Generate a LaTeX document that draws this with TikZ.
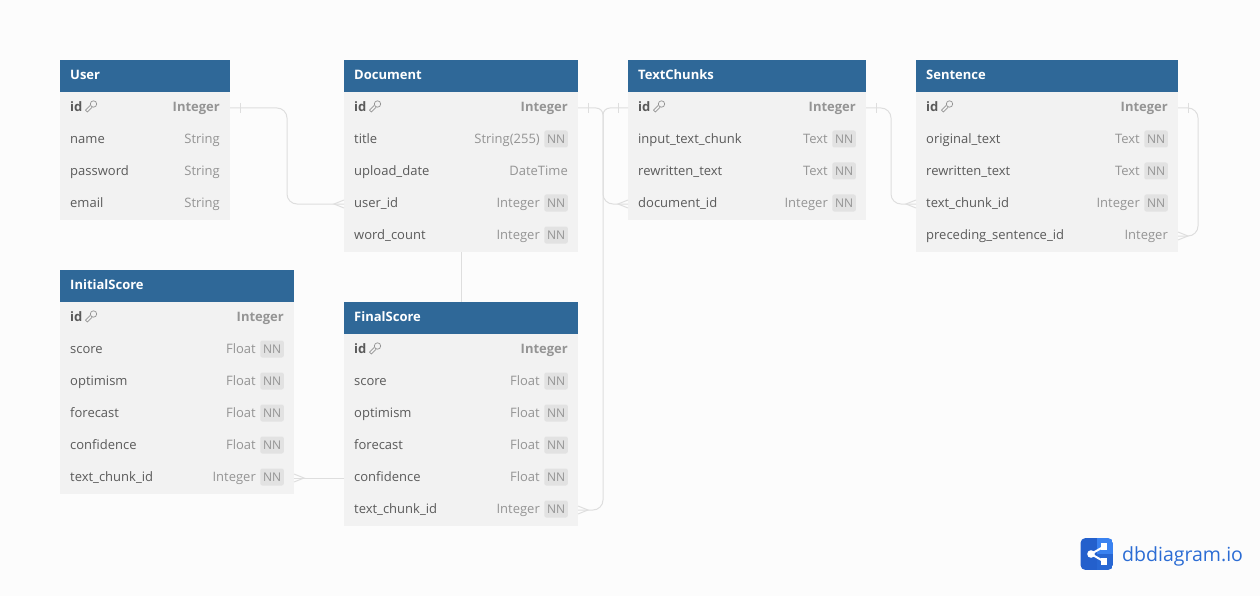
\documentclass[tikz,border=0pt]{standalone}
\usepackage{fontspec}
\setmainfont{Open Sans}
\usetikzlibrary{calc}
\definecolor{pagebg}{HTML}{FCFCFC}
\definecolor{rowbg}{HTML}{F2F2F2}
\definecolor{headbg}{HTML}{2F6898}
\definecolor{fieldtxt}{HTML}{5A5A5A}
\definecolor{typetxt}{HTML}{949494}
\definecolor{badgebg}{HTML}{E2E2E2}
\definecolor{linec}{HTML}{DEDEDE}
\definecolor{logod}{HTML}{2460CC}
\definecolor{logol}{HTML}{3A82F0}
\definecolor{logot}{HTML}{2B6CD4}
\tikzset{
 x=1pt,y=-1pt,
 rowbox/.style={fill=rowbg,draw=none,inner sep=0,outer sep=0,anchor=north west,minimum height=32pt},
 headbox/.style={fill=headbg,draw=none,inner sep=0,outer sep=0,anchor=north west,minimum height=32pt},
 headtxt/.style={text=white,font=\fontsize{13}{15}\selectfont\bfseries,anchor=base west,inner sep=0},
 fieldlbl/.style={text=fieldtxt,font=\fontsize{13}{15}\selectfont,anchor=base west,inner sep=0},
 typelbl/.style={text=typetxt,font=\fontsize{13}{15}\selectfont,anchor=base east,inner sep=0},
 badge/.style={fill=badgebg,rounded corners=2pt,text=typetxt,font=\fontsize{12}{14}\selectfont,inner sep=0,minimum width=23.5pt,minimum height=17pt,anchor=east},
 rel/.style={draw=linec,line width=1pt,rounded corners=10pt},
 tickline/.style={draw=linec,line width=1pt},
 keyic/.style={draw=typetxt,line width=.7pt},
}
% \ent{id}{x}{y}{w}{Title}
\newcommand{\ent}[5]{%
 \node[headbox,minimum width=#4pt] (#1) at (#2,#3) {};
 \node[headtxt] (#1-t) at (#2+10,#3+19.4) {#5};
}
% \rowk{id}{x}{y}{w}{type}: primary key row
\newcommand{\rowk}[5]{%
 \node[rowbox,minimum width=#4pt] (#1) at (#2,#3) {};
 \node[fieldlbl,font=\fontsize{13}{15}\selectfont\bfseries] (#1-f) at (#2+10,#3+19.4) {id};
 \node[typelbl,font=\fontsize{13}{15}\selectfont\bfseries] (#1-y) at (#2+#4-10,#3+19.4) {#5};
 \begin{scope}[shift={(#2+33.5,#3+12)},rotate=45]
  \draw[keyic] (0,0) circle[radius=3.2pt];
  \draw[keyic] (-3.2,1.3) -- (-10,1.3) -- (-10,-1.3) -- (-3.2,-1.3);
 \end{scope}
}
% \rowp{id}{x}{y}{w}{field}{type}: plain row
\newcommand{\rowp}[6]{%
 \node[rowbox,minimum width=#4pt] (#1) at (#2,#3) {};
 \node[fieldlbl] (#1-f) at (#2+10,#3+19.4) {#5};
 \node[typelbl] (#1-y) at (#2+#4-10,#3+19.4) {#6};
}
% \rown{id}{x}{y}{w}{field}{type}: row with NN badge
\newcommand{\rown}[6]{%
 \node[rowbox,minimum width=#4pt] (#1) at (#2,#3) {};
 \node[fieldlbl] (#1-f) at (#2+10,#3+19.4) {#5};
 \node[typelbl] (#1-y) at (#2+#4-38,#3+19.4) {#6};
 \node[badge] (#1-n) at (#2+#4-10,#3+15) {NN};
}
\begin{document}
\begin{tikzpicture}
\useasboundingbox (0,0) rectangle (1260,596);
\fill[pagebg] (0,0) rectangle (1260,596);

% User
\ent{user}{60}{60}{170}{User}
\rowk{uid}{60}{92}{170}{Integer}
\rowp{uname}{60}{124}{170}{name}{String}
\rowp{upass}{60}{156}{170}{password}{String}
\rowp{umail}{60}{188}{170}{email}{String}

% Document
\ent{doc}{344}{60}{234}{Document}
\rowk{did}{344}{92}{234}{Integer}
\rown{dtitle}{344}{124}{234}{title}{String(255)}
\rowp{ddate}{344}{156}{234}{upload\_date}{DateTime}
\rown{duser}{344}{188}{234}{user\_id}{Integer}
\rown{dword}{344}{220}{234}{word\_count}{Integer}

% TextChunks
\ent{tc}{628}{60}{238}{TextChunks}
\rowk{tid}{628}{92}{238}{Integer}
\rown{tinput}{628}{124}{238}{input\_text\_chunk}{Text}
\rown{trew}{628}{156}{238}{rewritten\_text}{Text}
\rown{tdoc}{628}{188}{238}{document\_id}{Integer}

% Sentence
\ent{sen}{916}{60}{262}{Sentence}
\rowk{sid}{916}{92}{262}{Integer}
\rown{sorig}{916}{124}{262}{original\_text}{Text}
\rown{srew}{916}{156}{262}{rewritten\_text}{Text}
\rown{stc}{916}{188}{262}{text\_chunk\_id}{Integer}
\rowp{sprev}{916}{220}{262}{preceding\_sentence\_id}{Integer}

% InitialScore
\ent{ini}{60}{270}{234}{InitialScore}
\rowk{iid}{60}{302}{234}{Integer}
\rown{iscore}{60}{334}{234}{score}{Float}
\rown{iopt}{60}{366}{234}{optimism}{Float}
\rown{ifore}{60}{398}{234}{forecast}{Float}
\rown{iconf}{60}{430}{234}{confidence}{Float}
\rown{itc}{60}{462}{234}{text\_chunk\_id}{Integer}

% FinalScore
\ent{fin}{344}{302}{234}{FinalScore}
\rowk{fid}{344}{334}{234}{Integer}
\rown{fscore}{344}{366}{234}{score}{Float}
\rown{fopt}{344}{398}{234}{optimism}{Float}
\rown{ffore}{344}{430}{234}{forecast}{Float}
\rown{fconf}{344}{462}{234}{confidence}{Float}
\rown{ftc}{344}{494}{234}{text\_chunk\_id}{Integer}

% routing coordinates
\coordinate (c1) at (287,0);
\coordinate (c2) at (603,0);
\coordinate (c3) at (891,0);
\coordinate (c4) at (1198,0);

% connectors
\draw[rel] (uid.east) -- (c1 |- uid.east) -- (c1 |- duser.west) -- (duser.west);
\draw[rel,rounded corners=7pt] (did.east) -- (c2 |- did.east) [rounded corners=10pt] -- (c2 |- tdoc.west) -- (tdoc.west);
\draw[rel,rounded corners=7pt] (tid.west) -- (c2 |- tid.west) [rounded corners=10pt] -- (c2 |- ftc.east) -- (ftc.east);
\draw[rel] (tid.east) -- (c3 |- tid.east) -- (c3 |- stc.west) -- (stc.west);
\draw[rel] (sid.east) -- (c4 |- sid.east) -- (c4 |- sprev.east) -- (sprev.east);
\draw[rel] (dword.south) -- (fin.north);
\draw[rel] (fconf.west) -- (itc.east |- fconf.west);

% one ticks
\foreach \n in {uid,did,sid,tid}{\draw[tickline] ($(\n.east)+(10,-5)$) -- ($(\n.east)+(10,5)$);}
\draw[tickline] ($(tid.west)+(-10,-5)$) -- ($(tid.west)+(-10,5)$);
% crow feet
\foreach \n in {duser,tdoc,stc}{\draw[tickline] ($(\n.west)+(0,-4)$) -- ($(\n.west)+(-10,0)$) -- ($(\n.west)+(0,4)$);}
\foreach \n in {sprev,ftc}{\draw[tickline] ($(\n.east)+(0,-4)$) -- ($(\n.east)+(10,0)$) -- ($(\n.east)+(0,4)$);}
\draw[tickline] ($(itc.east |- fconf.west)+(0,-4)$) -- ($(itc.east |- fconf.west)+(10,0)$) -- ($(itc.east |- fconf.west)+(0,4)$);

% logo
\begin{scope}
 \clip[rounded corners=5pt] (1080.5,538) rectangle (1113,570);
 \fill[logod] (1080,538) rectangle (1097,570);
 \fill[logol] (1097,538) rectangle (1113,554);
 \fill[logod!80!logol] (1097,554) rectangle (1113,570);
\end{scope}
\coordinate (la) at (1091,554);
\coordinate (lb) at (1104,546.5);
\coordinate (lc) at (1104,561.5);
\draw[white,line width=2pt] (lb) -- (la) -- (lc);
\fill[white] (la) circle[radius=3.8pt];
\fill[white] ($(lb)+(-3.2,-3.2)$) rectangle ($(lb)+(3.2,3.2)$);
\fill[white] ($(lc)+(-3.2,-3.2)$) rectangle ($(lc)+(3.2,3.2)$);
\node[text=logot,font=\fontsize{19.5}{22}\selectfont,anchor=base west,inner sep=0] (brand) at (1122,561) {dbdiagram.io};
\end{tikzpicture}
\end{document}
